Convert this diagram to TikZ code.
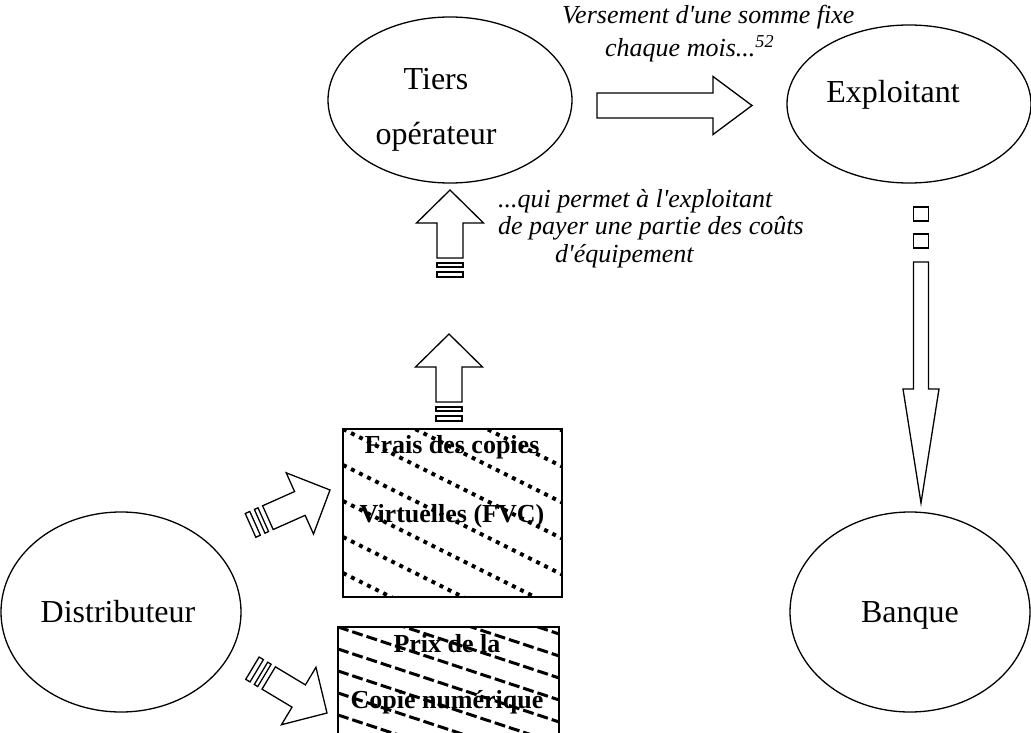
\documentclass[tikz,border=0pt]{standalone}
\usepackage{fontspec}
\setmainfont{Liberation Serif}
\usetikzlibrary{shapes.geometric}
\begin{document}
\begin{tikzpicture}[x=1pt,y=-1pt,
  ell/.style={draw=black, line width=1.3pt, ellipse, inner sep=0pt},
  lab/.style={font=\fontsize{32}{55}\selectfont, align=center, anchor=base, inner sep=0pt},
  note/.style={font=\itshape\fontsize{26}{27.5}\selectfont, align=left, anchor=base west, inner sep=0pt},
  boxtxt/.style={font=\bfseries\fontsize{26}{69}\selectfont, align=center, anchor=base, inner sep=0pt},
  blockarrow/.style={draw=black, fill=white, line width=1.3pt, line join=miter},
  hatchA/.style={line width=4pt, dash pattern=on 4pt off 5pt},
  hatchB/.style={line width=3pt, dash pattern=on 11pt off 4pt},
  frame/.style={draw=black, line width=1.2pt}
]
\useasboundingbox (0,0) rectangle (1031,733);

\newcommand\StripedArrow[3]{%
  \begin{scope}[shift={(#1,#2)}, rotate=#3]
    \draw[blockarrow] (0,0) -- (-33,-33.5) -- (-33,-13) -- (-68,-13) -- (-68,13) -- (-33,13) -- (-33,33.5) -- cycle;
    \draw[blockarrow] (-73,-13) rectangle (-77,13);
    \draw[blockarrow] (-82,-13) rectangle (-87,13);
  \end{scope}}

% ellipses
\node[ell, minimum width=244, minimum height=166] (tiers) at (450,100) {};
\node[ell, minimum width=244, minimum height=158] (exploit) at (909,104) {};
\node[ell, minimum width=240, minimum height=200] (distrib) at (121,612) {};
\node[ell, minimum width=240, minimum height=200] (banque) at (910,612) {};

\node[lab] (tiersT) at (436,145) {Tiers\\opérateur};
\node[lab] (exploitT) at (893,103) {Exploitant};
\node[lab] (distribT) at (118,622) {Distributeur};
\node[lab] (banqueT) at (910,622) {Banque};

% FVC box
\begin{scope}
  \clip (343,429) rectangle (562,597);
  \foreach \k in {-8,...,6} \draw[hatchA] (343,{429+\k*36}) -- ++(219,{219*0.5});
\end{scope}
\node[frame, minimum width=219, minimum height=168, inner sep=0pt] (fvc) at (452.5,513) {};
\node[boxtxt] (fvcT) at (452,522) {Frais des copies\\Virtuelles (FVC)};

% Prix box
\begin{scope}
  \clip (338,627) rectangle (559,740);
  \foreach \k in {-5,...,6} \draw[hatchB] (338,{627+\k*22}) -- ++(221,{221*0.33});
\end{scope}
\draw[frame] (338,740) -- (338,627) -- (559,627) -- (559,740);
\node[boxtxt, font=\bfseries\fontsize{26}{56}\selectfont] (prixT) at (447,708) {Prix de la\\Copie numérique};

% arrows
\StripedArrow{450}{190}{90}
\StripedArrow{449}{334}{90}
\StripedArrow{330}{490}{24}
\StripedArrow{327}{713}{-31}

\draw[blockarrow] (752,105.5) -- (713,76.5) -- (713,93) -- (597,93) -- (597,118) -- (713,118) -- (713,134.5) -- cycle;

\draw[blockarrow] (921,503) -- (903,389) -- (913.5,389) -- (913.5,262) -- (928.5,262) -- (928.5,389) -- (939,389) -- cycle;
\draw[blockarrow] (913.5,248) rectangle (928.5,234);
\draw[blockarrow] (913.5,221) rectangle (928.5,207);

% notes
\node[note, font=\itshape\fontsize{26}{33}\selectfont] (noteA) at (562,57) {Versement d\textquotesingle une somme fixe\\\hspace*{43pt}chaque mois...\textsuperscript{52}};
\node[note] (noteB) at (498,262) {...qui permet à l\textquotesingle exploitant\\de payer une partie des coûts\\\hspace*{57pt}d\textquotesingle équipement};
\end{tikzpicture}
\end{document}
